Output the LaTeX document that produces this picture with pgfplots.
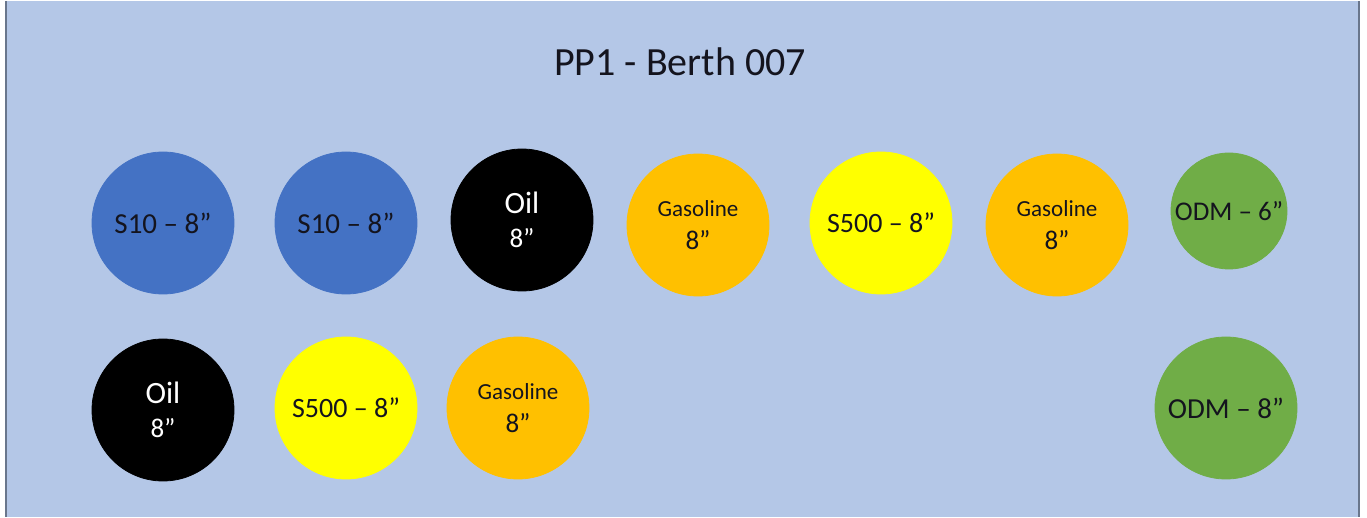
\documentclass[border=0pt]{standalone}
\usepackage{pgfplots}
\pgfplotsset{compat=1.18}
\usepackage{fontspec}
\setmainfont{Carlito}
\definecolor{bgblue}{RGB}{180,199,231}
\definecolor{edgeblue}{RGB}{105,118,140}
\definecolor{pipeblue}{RGB}{68,114,196}
\definecolor{pipeorange}{RGB}{255,192,0}
\definecolor{pipeyellow}{RGB}{255,255,0}
\definecolor{pipegreen}{RGB}{112,173,71}
\definecolor{txt}{RGB}{20,20,30}
\begin{document}
\begin{tikzpicture}
\begin{axis}[
  scale only axis, width=683.5pt, height=258pt,
  xmin=0, xmax=1367, ymin=0, ymax=516, y dir=reverse,
  hide axis, clip=false,
  only marks,
  nodes near coords style={anchor=center, align=center, text=txt, inner sep=0pt},
]
\fill[white] (axis cs:0,0) rectangle (axis cs:1367,516);
\fill[bgblue] (axis cs:6,0) rectangle (axis cs:1359,516);
\draw[edgeblue, line width=1pt] (axis cs:6,0) -- (axis cs:6,516);
\draw[edgeblue, line width=1pt] (axis cs:1359,0) -- (axis cs:1359,516);
\node[font=\fontsize{20}{24}\selectfont, text=txt] at (axis cs:680,61) {PP1 - Berth 007};
% S10 - 8"
\addplot[color=pipeblue, mark=*, mark size=35.5pt, mark options={draw=pipeblue, fill=pipeblue},
  nodes near coords={\fontsize{14.5}{17}\selectfont S10 – 8”}]
  coordinates {(163,222) (346,222)};
% Oil 8"
\addplot[color=black, mark=*, mark size=35.5pt, mark options={draw=black, fill=black},
  nodes near coords={\fontsize{15.5}{16}\selectfont Oil\\[5pt]\fontsize{13.5}{16}\selectfont 8”},
  nodes near coords style={text=white}]
  coordinates {(522,219) (163,409)};
% Gasoline 8"
\addplot[color=pipeorange, mark=*, mark size=35.5pt, mark options={draw=pipeorange, fill=pipeorange},
  nodes near coords={\fontsize{11.5}{13}\selectfont Gasoline\\[4.5pt]\fontsize{13.5}{14}\selectfont 8”}]
  coordinates {(698,224) (1057,224) (518,407)};
% S500 - 8"
\addplot[color=pipeyellow, mark=*, mark size=35.5pt, mark options={draw=pipeyellow, fill=pipeyellow},
  nodes near coords={\fontsize{14}{17}\selectfont S500 – 8”}]
  coordinates {(881,222) (346,407)};
% ODM - 6"
\addplot[color=pipegreen, mark=*, mark size=29pt, mark options={draw=pipegreen, fill=pipegreen},
  nodes near coords={\fontsize{13.5}{16}\selectfont ODM – 6”}]
  coordinates {(1229,210)};
% ODM - 8"
\addplot[color=pipegreen, mark=*, mark size=35.5pt, mark options={draw=pipegreen, fill=pipegreen},
  nodes near coords={\fontsize{14.5}{17}\selectfont ODM – 8”}]
  coordinates {(1226,407)};
\end{axis}
\end{tikzpicture}
\end{document}
